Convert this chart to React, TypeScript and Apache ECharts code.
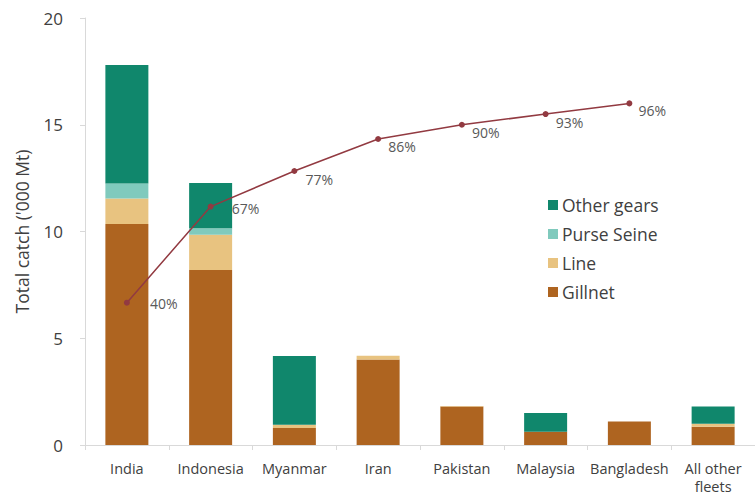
import React, { useEffect, useRef } from "react";
import * as echarts from "echarts";

const categories = ["India", "Indonesia", "Myanmar", "Iran", "Pakistan", "Malaysia", "Bangladesh", "All other\nfleets"];
const gillnet = [10.35, 8.2, 0.8, 4.0, 1.8, 0.62, 1.1, 0.86];
const lineGear = [1.2, 1.65, 0.15, 0.18, 0.03, 0, 0, 0.14];
const purseSeine = [0.7, 0.3, 0, 0, 0, 0, 0, 0];
const otherGears = [5.55, 2.12, 3.22, 0, 0, 0.88, 0, 0.8];
const cumulativePct = [40, 67, 77, 86, 90, 93, 96, null];
const pctLabelOffsets = [[15, 1], [13, 2], [3, 8], [2, 8], [2, 8], [2, 8], [1, 7], [0, 0]];
const yTicks = [0, 5, 10, 15, 20];

const FONT = "'Open Sans', sans-serif";
const TEXT = "#404040";

export default function App() {
  const ref = useRef<HTMLDivElement>(null);
  useEffect(() => {
    if (!ref.current) return;
    const chart = echarts.init(ref.current, null, { renderer: "svg" });
    const barSeries = (name: string, data: number[], color: string) => ({
      name,
      type: "bar",
      stack: "total",
      data,
      barWidth: 43,
      itemStyle: { color },
      emphasis: { disabled: true },
    });
    chart.setOption({
      animation: false,
      textStyle: { fontFamily: FONT },
      grid: { left: 85, right: -10, top: 18, bottom: 54, containLabel: false },
      legend: {
        orient: "vertical",
        left: 543,
        top: 191,
        itemGap: 11,
        itemWidth: 10,
        itemHeight: 10,
        icon: "rect",
        data: ["Other gears", "Purse Seine", "Line", "Gillnet"],
        textStyle: { color: TEXT, fontSize: 17.5, fontFamily: FONT, padding: [0, 0, 0, -1] },
      },
      xAxis: {
        type: "category",
        data: categories,
        axisLine: { lineStyle: { color: "#D9D9D9" } },
        axisTick: { show: true, length: 5, lineStyle: { color: "#D9D9D9" } },
        axisLabel: { color: TEXT, fontSize: 14.5, margin: 14, lineHeight: 18, fontFamily: FONT, interval: 0 },
      },
      yAxis: [
        {
          type: "value",
          min: yTicks[0],
          max: yTicks[yTicks.length - 1],
          interval: 5,
          name: "Total catch ('000 Mt)",
          nameLocation: "middle",
          nameGap: 54,
          nameTextStyle: { color: TEXT, fontSize: 17.5, fontFamily: FONT },
          axisLine: { show: true, lineStyle: { color: "#D9D9D9" } },
          axisTick: { show: true, length: 5, lineStyle: { color: "#D9D9D9" } },
          splitLine: { show: false },
          axisLabel: { color: TEXT, fontSize: 17, margin: 22, fontFamily: FONT },
        },
        {
          type: "value",
          min: 0,
          max: 120,
          show: false,
          splitLine: { show: false },
        },
      ],
      series: [
        barSeries("Gillnet", gillnet, "#AE6420"),
        barSeries("Line", lineGear, "#E8C380"),
        barSeries("Purse Seine", purseSeine, "#80CABD"),
        barSeries("Other gears", otherGears, "#10876C"),
        {
          name: "Cumulative",
          type: "line",
          yAxisIndex: 1,
          data: cumulativePct.map((v, i) =>
            v == null
              ? null
              : { value: v, label: { offset: pctLabelOffsets[i] } }
          ),
          symbol: "circle",
          symbolSize: 6,
          lineStyle: { color: "#923A41", width: 1.5 },
          itemStyle: { color: "#923A41" },
          emphasis: { disabled: true },
          label: {
            show: true,
            position: "right",
            distance: 5,
            formatter: (p: any) => p.value + "%",
            color: "#595959",
            fontSize: 14,
            fontFamily: FONT,
          },
        },
      ],
    });
    return () => chart.dispose();
  }, []);
  return <div ref={ref} style={{ position: "fixed", left: 0, top: 0, width: 755, height: 499, background: "#fff" }} />;
}
